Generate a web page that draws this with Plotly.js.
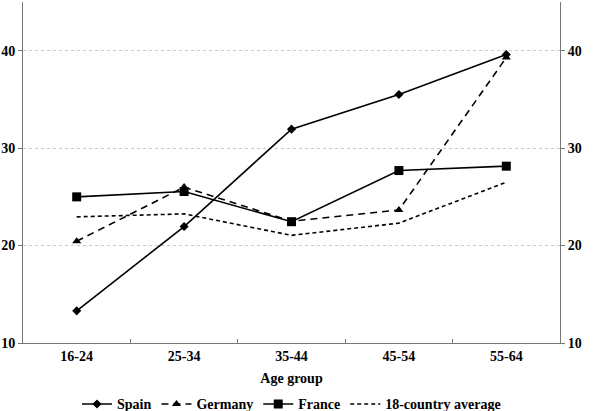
<!DOCTYPE html>
<html>
<head>
<meta charset="utf-8">
<script src="https://cdn.plot.ly/plotly-3.0.1.min.js"></script>
<style>html,body{margin:0;padding:0;background:#fff;}#chart{width:600px;height:411px;}</style>
</head>
<body>
<div id="chart"></div>
<script>
const ageGroups = ["16-24", "25-34", "35-44", "45-54", "55-64"];
const spain = [13.3, 21.95, 31.95, 35.5, 39.6];
const germany = [20.45, 26.0, 22.5, 23.65, 39.3];
const france = [25.0, 25.55, 22.45, 27.7, 28.15];
const average18 = [22.95, 23.25, 21.05, 22.3, 26.5];
const yTicks = [10, 20, 30, 40];

const FONT = "Liberation Serif, Times New Roman, serif";
const FS = 14;

const traces = [
  {x: ageGroups, y: spain, name: "Spain", type: "scatter", mode: "lines+markers",
   line: {color: "#000", width: 1.6}, marker: {symbol: "diamond", size: 7, color: "#000"}},
  {x: ageGroups, y: germany, name: "Germany", type: "scatter", mode: "lines+markers",
   line: {color: "#000", width: 1.6, dash: "7px,5px"}, marker: {symbol: "triangle-up", size: 8, color: "#000"}},
  {x: ageGroups, y: france, name: "France", type: "scatter", mode: "lines+markers",
   line: {color: "#000", width: 1.6}, marker: {symbol: "square", size: 9, color: "#000"}},
  {x: ageGroups, y: average18, name: "18-country average", type: "scatter", mode: "lines",
   line: {color: "#000", width: 1.6, dash: "4px,3px"}},
  {x: ageGroups, y: average18, yaxis: "y2", type: "scatter", mode: "lines", showlegend: false,
   hoverinfo: "skip", line: {color: "rgba(0,0,0,0)", width: 0}}
];

const yCommon = {
  range: [10, 45], tickvals: yTicks, ticktext: yTicks.map(String),
  ticks: "outside", ticklen: 4, tickcolor: "#777",
  showline: true, linecolor: "#777", linewidth: 1, automargin: false,
  zeroline: false, tickfont: {family: FONT, size: FS, color: "#000", weight: "bold"}
};

const layout = {
  width: 600, height: 411,
  margin: {l: 23, r: 40, t: 2, b: 68, autoexpand: false},
  paper_bgcolor: "#fff", plot_bgcolor: "#fff",
  font: {family: FONT, size: FS, color: "#000"},
  showlegend: true,
  legend: {orientation: "h", x: 0.5, xanchor: "center", y: -0.18, yanchor: "middle",
    font: {family: FONT, size: FS, color: "#000", weight: "bold"}, itemwidth: 30, tracegroupgap: 0},
  xaxis: {
    type: "category", range: [-0.5, 4.5], tickson: "boundaries", ticks: "inside", ticklen: 4,
    tickcolor: "#777", showline: true, linecolor: "#777", linewidth: 1, showgrid: false, automargin: false,
    tickfont: {family: FONT, size: FS, color: "#000", weight: "bold"},
    title: {text: "Age group", font: {family: FONT, size: FS, color: "#000", weight: "bold"}, standoff: 10}
  },
  yaxis: Object.assign({}, yCommon, {
    side: "left", showgrid: true, gridcolor: "#c8c8c8", griddash: "dot", gridwidth: 1
  }),
  yaxis2: Object.assign({}, yCommon, {
    side: "right", overlaying: "y", showgrid: false
  })
};

Plotly.newPlot("chart", traces, layout, {displayModeBar: false, staticPlot: true});
</script>
</body>
</html>
